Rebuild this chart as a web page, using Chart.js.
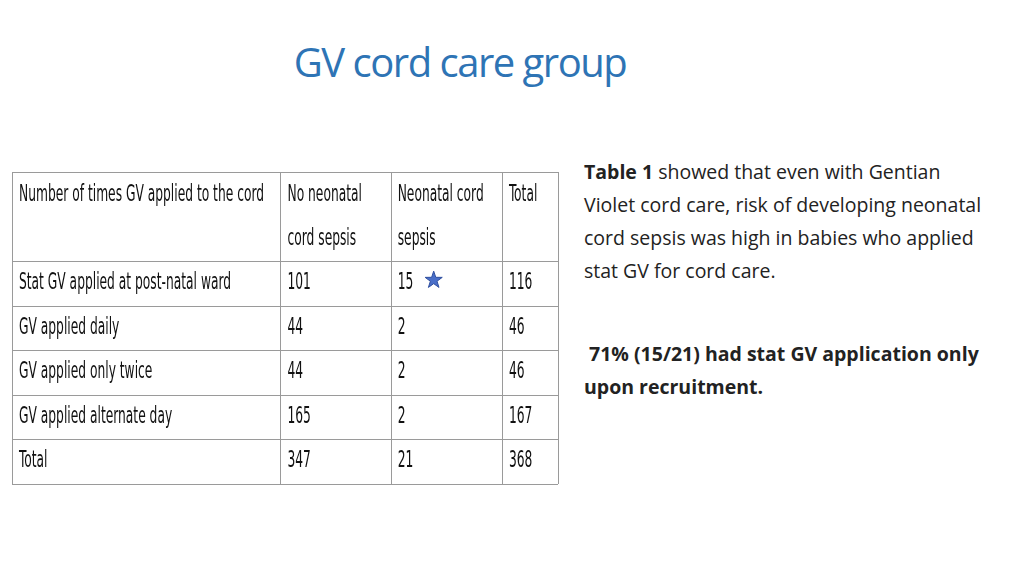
<!DOCTYPE html>
<html><head><meta charset="utf-8">
<script src="https://cdn.jsdelivr.net/npm/chart.js@4"></script>
<style>
body{margin:0;width:1024px;height:576px;background:#fff;position:relative;overflow:hidden;font-family:'Open Sans',sans-serif}
#title{position:absolute;left:0;width:920px;top:34px;text-align:center;color:#2E74B5;font-size:40px;font-family:'Open Sans',sans-serif;letter-spacing:-1.5px}
.p{position:absolute;left:584px;width:412px;font-family:'Open Sans',sans-serif;font-size:19.5px;line-height:33px;color:#222}
#wrap{position:absolute;left:11px;top:171px;width:548px;height:314px}
</style></head><body>
<div id="title">GV cord care group</div>
<div class="p" style="top:155px"><b>Table 1</b> showed that even with Gentian Violet cord care, risk of developing neonatal cord sepsis was high in babies who applied stat GV for cord care.</div>
<div class="p" style="top:337px;font-weight:bold">&nbsp;71% (15/21) had stat GV application only upon recruitment.</div>
<div id="wrap"><canvas id="c"></canvas></div>
<script>
const headers = [["Number of times GV applied to the cord"],["No neonatal","cord sepsis"],["Neonatal cord","sepsis"],["Total"]];
const rowLabels = ["Stat GV applied at post-natal ward","GV applied daily","GV applied only twice","GV applied alternate day","Total"];
const noSepsis = [101,44,44,165,347];
const sepsis = [15,2,2,2,21];
const totals = [116,46,46,167,368];
const starRow = 0;
// layout (style)
const colEdges = [0,268,378,489,545];
const rowEdges = [0,2,3,4,5,6,7];

const cells = [];
headers.forEach((h,c)=>cells.push({x:colEdges[c],y:0,t:h}));
rowLabels.forEach((r,i)=>{
  [r,noSepsis[i],sepsis[i],totals[i]].forEach((v,c)=>cells.push({x:colEdges[c],y:rowEdges[i+1],t:[String(v)]}));
});

const tablePlugin={id:'table',afterDatasetsDraw(ch){
  const ctx=ch.ctx,X=ch.scales.x,Y=ch.scales.y;
  ctx.save();
  ctx.strokeStyle='#9a9a9a';ctx.lineWidth=1;
  colEdges.forEach(v=>{const p=Math.round(X.getPixelForValue(v))+0.5;ctx.beginPath();ctx.moveTo(p,Y.getPixelForValue(0));ctx.lineTo(p,Y.getPixelForValue(7));ctx.stroke();});
  rowEdges.forEach(v=>{const p=Math.round(Y.getPixelForValue(v))+0.5;ctx.beginPath();ctx.moveTo(X.getPixelForValue(0),p);ctx.lineTo(X.getPixelForValue(545),p);ctx.stroke();});
  ctx.fillStyle='#111';ctx.textBaseline='middle';
  ctx.font="22px 'DejaVu Sans Condensed','Liberation Sans Narrow',sans-serif";
  const ds=ch.data.datasets[0].data;
  ds.forEach(d=>{
    const px=X.getPixelForValue(d.x)+7;
    d.t.forEach((line,k)=>{
      const py=Y.getPixelForValue(d.y)+(d.y===0?23+k*44:22);
      ctx.save();ctx.translate(px,py);ctx.scale(0.62,1.05);ctx.fillText(line,0,0);ctx.restore();
    });
  });
  const sx=X.getPixelForValue(colEdges[2])+43,sy=Y.getPixelForValue(rowEdges[starRow+1])+19;
  ctx.beginPath();
  for(let i=0;i<10;i++){const r=i%2?3.5:9,a=-Math.PI/2+i*Math.PI/5;ctx.lineTo(sx+r*Math.cos(a),sy+r*Math.sin(a));}
  ctx.closePath();ctx.fillStyle='#4A6FC9';ctx.fill();ctx.strokeStyle='#2F4F9F';ctx.stroke();
  ctx.restore();
}};
new Chart(document.getElementById('c'),{type:'scatter',
  data:{datasets:[{data:cells,pointRadius:0}]},
  options:{responsive:true,maintainAspectRatio:false,animation:false,
    layout:{padding:1},
    plugins:{legend:{display:false},tooltip:{enabled:false}},
    scales:{x:{type:'linear',min:0,max:545,display:false},y:{type:'linear',min:0,max:7,reverse:true,display:false}}},
  plugins:[tablePlugin]});
</script></body></html>
